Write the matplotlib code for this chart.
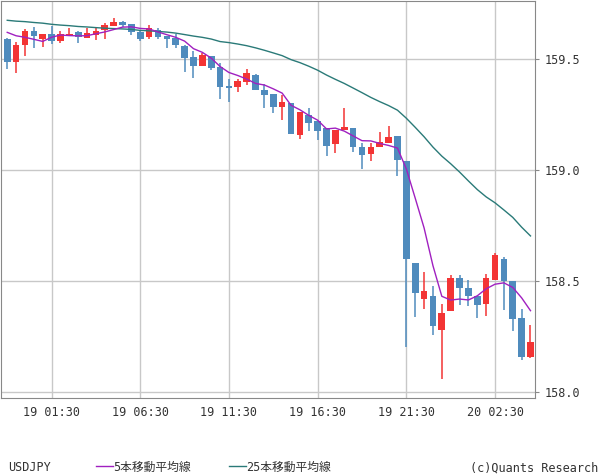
import matplotlib
matplotlib.use("Agg")
import matplotlib.pyplot as plt
import numpy as np

opens = [159.590,159.488,159.563,159.626,159.591,159.613,159.582,159.607,159.622,159.596,
         159.607,159.631,159.650,159.667,159.658,159.622,159.600,159.631,159.604,159.596,
         159.559,159.510,159.470,159.512,159.463,159.380,159.375,159.398,159.429,159.362,
         159.342,159.285,159.300,159.159,159.248,159.221,159.191,159.118,159.182,159.188,
         159.104,159.073,159.105,159.120,159.153,159.041,158.581,158.420,158.432,158.281,
         158.366,158.514,158.468,158.432,158.398,158.506,158.599,158.500,158.333,158.159]
highs = [159.593,159.575,159.635,159.644,159.613,159.649,159.626,159.640,159.626,159.640,
         159.640,159.661,159.685,159.671,159.658,159.626,159.653,159.640,159.604,159.613,
         159.564,159.537,159.528,159.512,159.483,159.411,159.411,159.456,159.434,159.389,
         159.342,159.338,159.300,159.261,159.279,159.221,159.191,159.182,159.279,159.188,
         159.123,159.120,159.173,159.200,159.153,159.041,158.581,158.541,158.477,158.396,
         158.527,158.527,158.505,158.432,158.532,158.626,158.608,158.500,158.374,158.303]
lows = [159.455,159.438,159.514,159.551,159.555,159.568,159.573,159.607,159.573,159.596,
        159.587,159.591,159.650,159.644,159.609,159.582,159.591,159.591,159.551,159.551,
        159.443,159.416,159.470,159.452,159.321,159.308,159.353,159.384,159.362,159.281,
        159.258,159.225,159.164,159.141,159.177,159.136,159.064,159.078,159.182,159.082,
        159.006,159.042,159.105,159.120,158.974,158.204,158.339,158.375,158.258,158.060,
        158.366,158.393,158.389,158.335,158.344,158.506,158.371,158.276,158.145,158.155]
closes = [159.488,159.563,159.626,159.604,159.613,159.582,159.613,159.613,159.598,159.617,
          159.626,159.653,159.667,159.653,159.623,159.591,159.640,159.600,159.591,159.564,
          159.506,159.470,159.517,159.461,159.375,159.371,159.402,159.438,159.362,159.339,
          159.285,159.306,159.164,159.261,159.213,159.177,159.109,159.182,159.194,159.105,
          159.069,159.104,159.125,159.149,159.046,158.599,158.447,158.455,158.299,158.356,
          158.514,158.470,158.434,158.393,158.514,158.617,158.501,158.330,158.159,158.225]
prior_closes = [159.66,159.68,159.70,159.69,159.71,159.70,159.68,159.69,159.67,159.70,159.72,159.71,
                159.69,159.68,159.70,159.69,159.67,159.66,159.68,159.67,159.64,159.66,159.65,159.66]
tick_idx = [5, 15, 25, 35, 45, 55]
tick_labels = ["19 01:30", "19 06:30", "19 11:30", "19 16:30", "19 21:30", "20 02:30"]
yticks = [158.0, 158.5, 159.0, 159.5]

plt.rcParams['font.family'] = ['DejaVu Sans Mono', 'Noto Sans CJK JP']
BLUE, RED, PURP, TEAL = "#4f8bbd", "#f33434", "#a020c0", "#2a7a78"

fig = plt.figure(figsize=(6, 4.75), dpi=100)
ax = fig.add_axes([0.002, 0.162, 0.89, 0.836])
n = len(closes)
x = np.arange(n)
allc = np.array(prior_closes + closes)
ma5 = np.convolve(allc, np.ones(5)/5, mode='valid')[-n:]
ma25 = np.convolve(allc, np.ones(25)/25, mode='valid')[-n:]

ax.set_axisbelow(True)
for i in range(n):
    o, h, l, c = opens[i], highs[i], lows[i], closes[i]
    col = RED if c >= o else BLUE
    ax.vlines(x[i], l, h, color=col, lw=1.1, zorder=2)
    ax.bar(x[i], max(abs(c-o), 0.003), bottom=min(o, c), width=0.75, color=col, zorder=3)
ax.plot(x, ma25, color=TEAL, lw=1.0, zorder=4)
ax.plot(x, ma5, color=PURP, lw=1.0, zorder=4)

ax.set_xlim(-0.68, 59.53)
ax.set_ylim(157.973, 159.761)
ax.set_xticks(tick_idx)
ax.set_xticklabels(tick_labels, fontsize=8.5, color="#333333")
ax.set_yticks(yticks)
ax.set_yticklabels([f"{v:.1f}" for v in yticks], fontsize=8.5, color="#333333")
ax.yaxis.tick_right()
ax.tick_params(axis='both', length=3, color="#888888")
ax.tick_params(axis='x', length=0, pad=6)
ax.grid(True, color="#c8c8c8", lw=1)
for s in ax.spines.values():
    s.set_color("#888888")

ty = 0.008
fig.text(0.013, ty, "USDJPY", fontsize=8.5, color="#333333")
fig.add_artist(plt.Line2D([0.16, 0.188], [ty + 0.01, ty + 0.01], color=PURP, lw=1))
fig.text(0.188, ty, "5本移動平均線", fontsize=8.5, color="#333333")
fig.add_artist(plt.Line2D([0.382, 0.41], [ty + 0.01, ty + 0.01], color=TEAL, lw=1))
fig.text(0.41, ty, "25本移動平均線", fontsize=8.5, color="#333333")
fig.text(0.997, ty, "(c)Quants Research", fontsize=8.5, color="#333333", ha='right')
fig.savefig("out.png", dpi=100)
